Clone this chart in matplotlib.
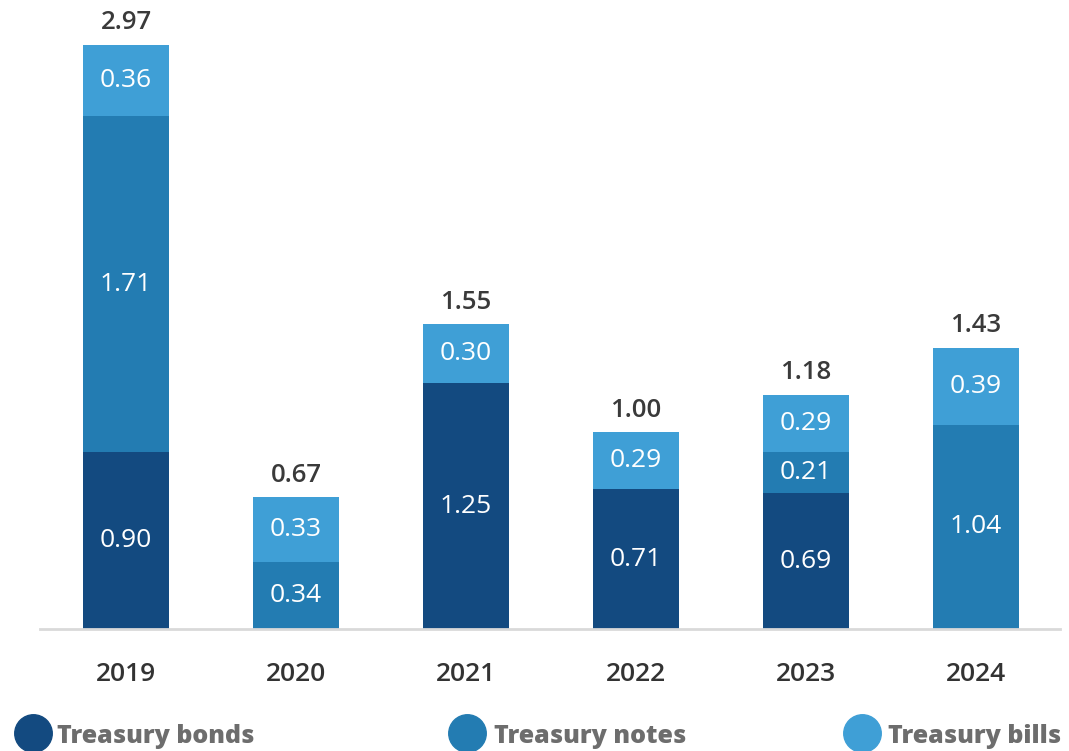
import matplotlib
matplotlib.use("Agg")
import matplotlib.pyplot as plt
from matplotlib.lines import Line2D

years = ["2019", "2020", "2021", "2022", "2023", "2024"]
bonds = [0.90, 0.00, 1.25, 0.71, 0.69, 0.00]
notes = [1.71, 0.34, 0.00, 0.00, 0.21, 1.04]
bills = [0.36, 0.33, 0.30, 0.29, 0.29, 0.39]
totals = ["2.97", "0.67", "1.55", "1.00", "1.18", "1.43"]

series = [("Treasury bonds", bonds, "#134a80"),
          ("Treasury notes", notes, "#237cb2"),
          ("Treasury bills", bills, "#3f9fd6")]

plt.rcParams["font.family"] = ["Open Sans", "DejaVu Sans"]

fig = plt.figure(figsize=(10.69, 7.51), dpi=100)
ax = fig.add_axes([0.0374, 0.1624, 0.954, 0.8376])

x = list(range(len(years)))
bottom = [0.0] * len(years)
for name, vals, col in series:
    ax.bar(x, vals, width=0.506, bottom=bottom, color=col, edgecolor="none")
    for i, v in enumerate(vals):
        if v > 0:
            ax.text(i, bottom[i] + v / 2, f"{v:.2f}", ha="center", va="center",
                    color="white", fontsize=19)
    bottom = [b + v for b, v in zip(bottom, vals)]

for i, t in enumerate(totals):
    ax.text(i, bottom[i] + 0.05, t, ha="center", va="bottom",
            color="#3a3a3a", fontsize=18.5, fontweight="semibold")

ax.set_xlim(-0.506, 5.494)
ax.set_ylim(0, 3.2)
ax.set_xticks(x)
ax.set_xticklabels(years, fontsize=19, color="#333333", fontweight="semibold")
ax.tick_params(axis="x", length=0, pad=24)
ax.set_yticks([])
for s in ["top", "right", "left"]:
    ax.spines[s].set_visible(False)
ax.spines["bottom"].set_color("#d9d9d9")
ax.spines["bottom"].set_linewidth(2)

# legend along the bottom edge
legend_items = [(0.031, 0.053), (0.437, 0.462), (0.806, 0.831)]
for (cx, tx), (name, vals, col) in zip(legend_items, series):
    fig.add_artist(Line2D([cx], [0.024], marker="o", markersize=27,
                          color=col, transform=fig.transFigure))
    fig.text(tx, 0.019, name, ha="left", va="center", fontsize=18,
             fontweight="heavy", color="#6d6d6d")

fig.savefig("out.png", dpi=100)
